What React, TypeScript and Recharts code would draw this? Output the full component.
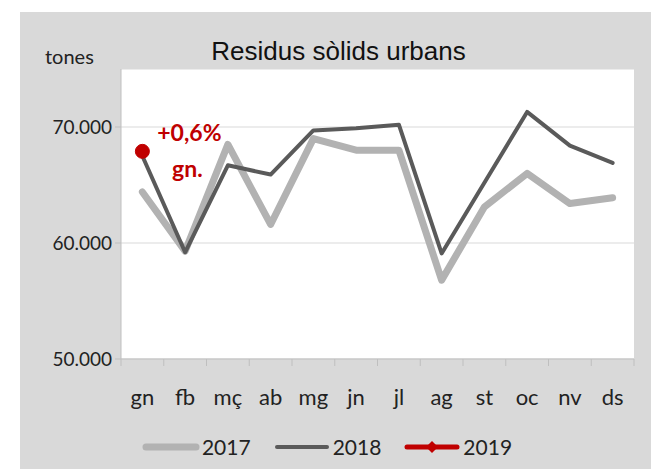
import React from 'react';
import { ComposedChart, Line, XAxis, YAxis, CartesianGrid, Legend } from 'recharts';

const months = ['gn', 'fb', 'mç', 'ab', 'mg', 'jn', 'jl', 'ag', 'st', 'oc', 'nv', 'ds'];
const values2017 = [64400, 59300, 68500, 61600, 69000, 68000, 68000, 56800, 63100, 66000, 63400, 63900];
const values2018 = [67500, 59200, 66700, 65900, 69700, 69900, 70200, 59100, 65200, 71300, 68400, 66900];
const values2019 = [67900, null, null, null, null, null, null, null, null, null, null, null];
const yTicks = [50000, 60000, 70000];
const changeText = '+0,6%';
const changeMonth = 'gn.';

const data = months.map((m, i) => ({
  month: m,
  y2017: values2017[i],
  y2018: values2018[i],
  y2019: values2019[i],
}));

const FONT = 'Lato, "Open Sans", sans-serif';
const RED = '#c00000';
const BAND = 513 / 12;

const fmt = (v: number) => String(v).replace(/\B(?=(\d{3})+(?!\d))/g, '.');

const XTick = (props: any) => {
  const { x, payload, index } = props;
  return (
    <g>
      <line x1={x - BAND / 2} y1={347} x2={x - BAND / 2} y2={354} stroke="#bfbfbf" />
      {index === months.length - 1 && (
        <line x1={x + BAND / 2} y1={347} x2={x + BAND / 2} y2={354} stroke="#bfbfbf" />
      )}
      <text x={x} y={393} textAnchor="middle" fontSize={22} fill="#222" fontFamily={FONT}>
        {payload.value}
      </text>
    </g>
  );
};

const ChangeLabel = (props: any) => {
  const { x, y, value } = props;
  if (value == null) return null;
  return (
    <g fontFamily={FONT} fontWeight="bold" fontSize={23} fill={RED}>
      <text x={x + 47} y={y - 10} textAnchor="middle">{changeText}</text>
      <text x={x + 45} y={y + 26} textAnchor="middle">{changeMonth}</text>
    </g>
  );
};

const legendItems = [
  { name: '2017', color: '#b2b2b2', width: 7, marker: false },
  { name: '2018', color: '#5a5a5a', width: 4, marker: false },
  { name: '2019', color: RED, width: 5, marker: true },
];

const renderLegend = () => (
  <div style={{ display: 'flex', justifyContent: 'center', alignItems: 'center', fontFamily: FONT, height: 45 }}>
    {legendItems.map((s, i) => (
      <span key={s.name} style={{ display: 'flex', alignItems: 'center', marginRight: i < legendItems.length - 1 ? 22 : 0 }}>
        <svg width={58} height={16}>
          <line x1={4} y1={8} x2={54} y2={8} stroke={s.color} strokeWidth={s.width} strokeLinecap="round" />
          {s.marker && <polygon points="29,2 35,8 29,14 23,8" fill={s.color} />}
        </svg>
        <span style={{ fontSize: 21, color: '#222', marginLeft: 2 }}>{s.name}</span>
      </span>
    ))}
  </div>
);

export default function App() {
  return (
    <div style={{ position: 'absolute', left: 0, top: 0, width: 651, height: 469, background: '#fff', fontFamily: FONT }}>
      <div style={{ position: 'absolute', left: 20, top: 12, width: 631, height: 457, background: '#d9d9d9' }}>
        <ComposedChart width={631} height={457} data={data} margin={{ top: 57, right: 17, bottom: 0, left: 0 }}>
          <CartesianGrid vertical={false} stroke="#d9d9d9" fill="#ffffff" />
          <XAxis
            dataKey="month"
            height={65}
            padding={{ left: BAND / 2, right: BAND / 2 }}
            tickLine={false}
            axisLine={{ stroke: '#bfbfbf' }}
            tick={<XTick />}
            interval={0}
          />
          <YAxis
            width={101}
            domain={[50000, 75000]}
            ticks={yTicks}
            tickFormatter={fmt}
            axisLine={{ stroke: '#bfbfbf' }}
            tickLine={{ stroke: '#bfbfbf' }}
            tickSize={6}
            tickMargin={3}
            tick={{ fontSize: 19, fill: '#222', fontFamily: FONT }}
          />
          <Legend verticalAlign="bottom" height={45} content={renderLegend} />
          <Line dataKey="y2017" name="2017" stroke="#b2b2b2" strokeWidth={7} dot={false} strokeLinejoin="round" strokeLinecap="round" isAnimationActive={false} />
          <Line dataKey="y2018" name="2018" stroke="#5a5a5a" strokeWidth={4} dot={false} strokeLinejoin="round" strokeLinecap="round" isAnimationActive={false} />
          <Line
            dataKey="y2019"
            name="2019"
            stroke={RED}
            strokeWidth={4}
            dot={{ r: 7, fill: RED, stroke: RED, strokeWidth: 1 }}
            label={<ChangeLabel />}
            isAnimationActive={false}
          />
        </ComposedChart>
        <div style={{ position: 'absolute', left: 0, width: 631, top: 24, textAlign: 'center', paddingLeft: 6, boxSizing: 'border-box', fontFamily: '"Liberation Sans Narrow", "Liberation Sans", sans-serif', fontSize: 26, color: '#111' }}>
          Residus sòlids urbans
        </div>
        <div style={{ position: 'absolute', left: 25, top: 32, fontSize: 20, color: '#222' }}>tones</div>
      </div>
    </div>
  );
}
